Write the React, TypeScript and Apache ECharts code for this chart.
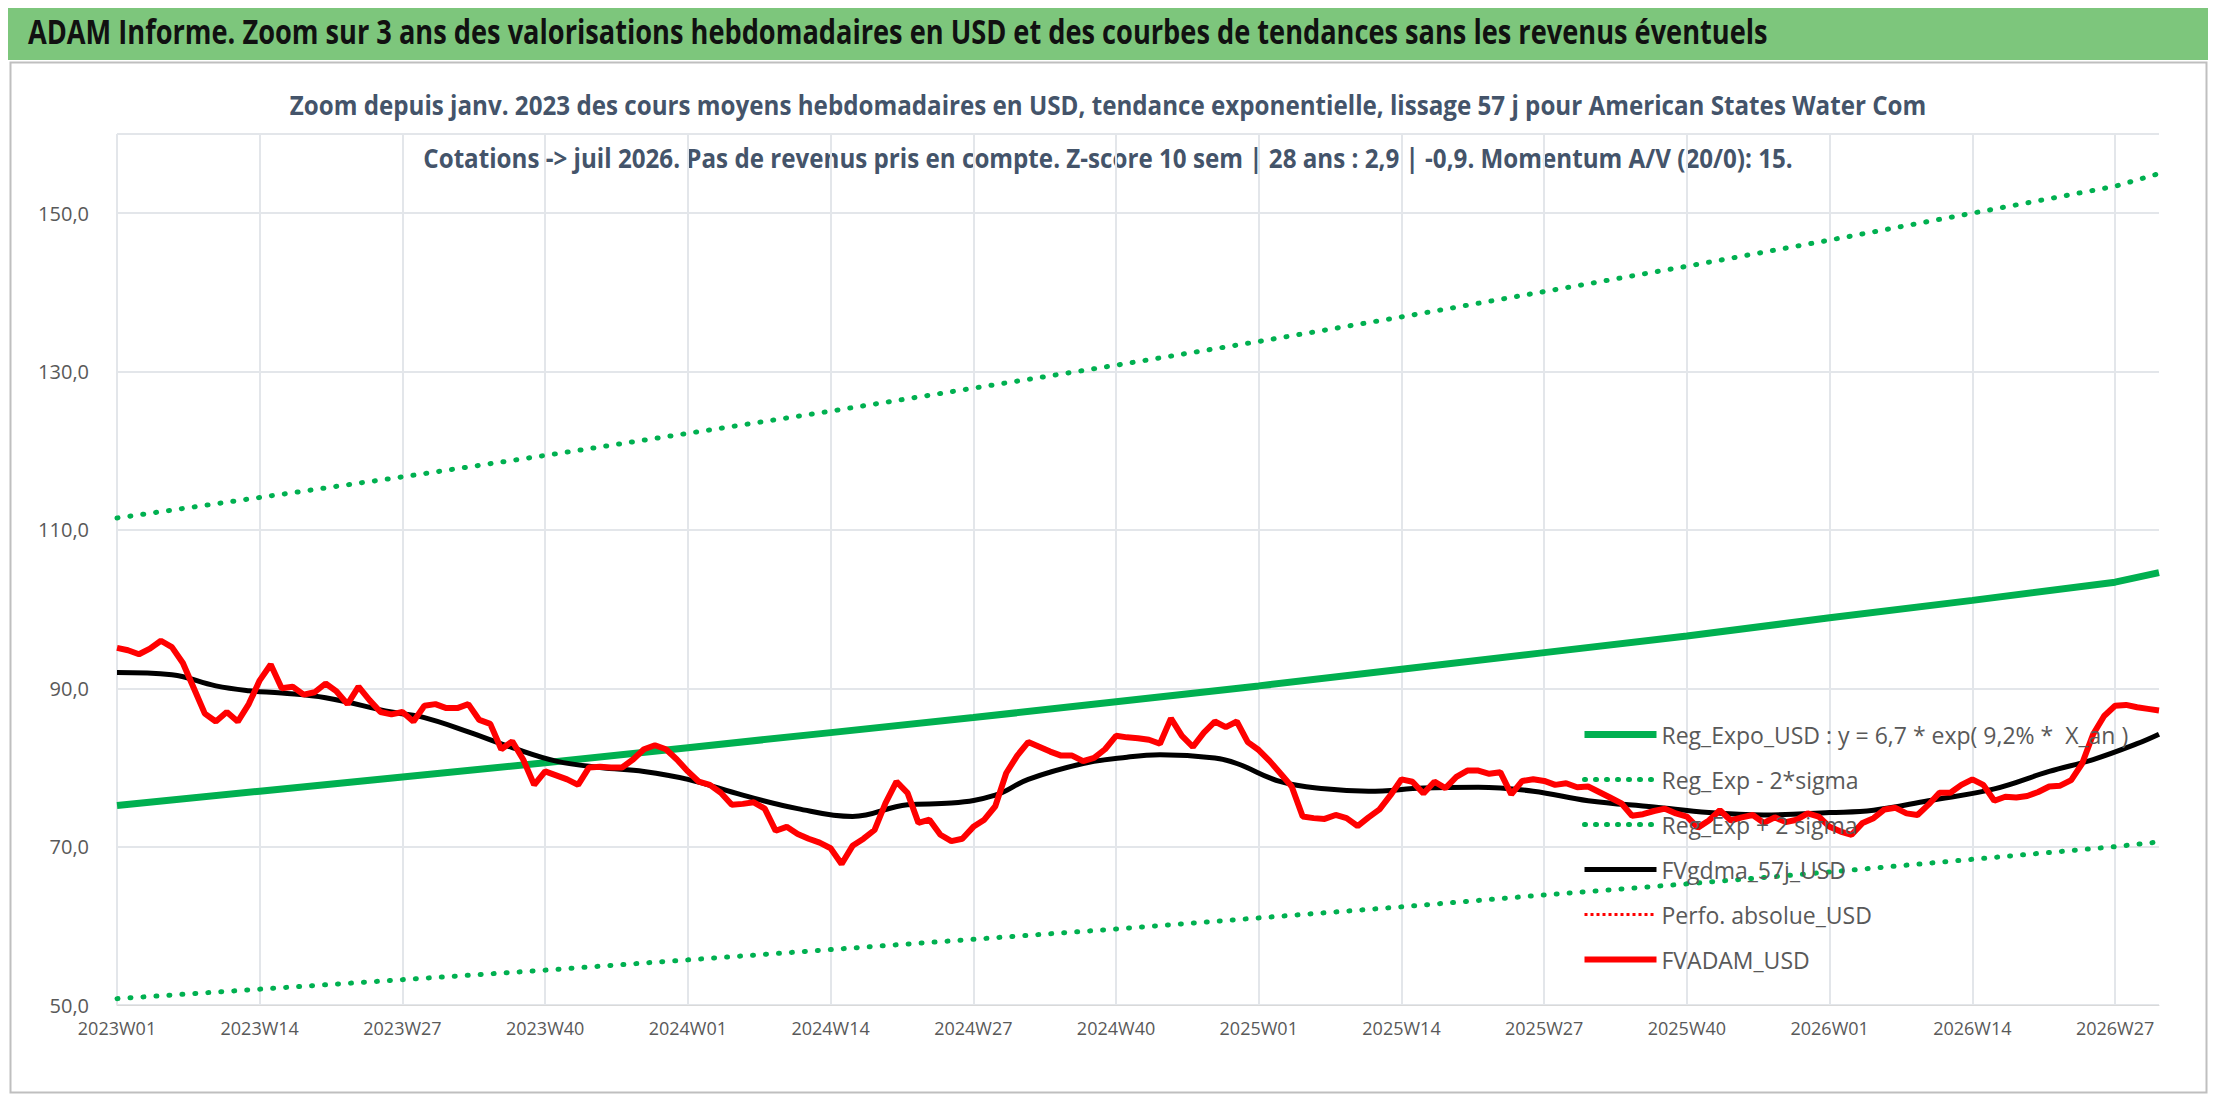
import React, { useEffect, useRef } from 'react'
import * as echarts from 'echarts'

// weekly categories 2023W01 .. 2026W31
const weeks: string[] = []
for (const yr of [2023, 2024, 2025, 2026]) {
  const n = yr === 2026 ? 31 : 52
  for (let w = 1; w <= n; w++) weeks.push(`${yr}W${String(w).padStart(2, '0')}`)
}

// FVADAM_USD weekly values
const fvadam = [
  95.1, 94.8, 94.3, 95.0, 96.0, 95.2, 93.2, 90.0, 86.8, 85.8, 87.0, 85.8, 88.0, 91.0, 93.0, 90.0,
  90.2, 89.2, 89.5, 90.6, 89.6, 88.0, 90.2, 88.5, 87.0, 86.7, 87.0, 85.8, 87.8, 88.0, 87.5, 87.5,
  88.0, 86.0, 85.5, 82.3, 83.3, 81.0, 77.8, 79.5, 79.0, 78.5, 77.8, 80.0, 80.1, 80.0, 80.0, 81.0,
  82.3, 82.8, 82.3, 81.0, 79.5, 78.2, 77.8, 76.8, 75.3, 75.4, 75.6, 74.8, 72.0, 72.5, 71.6, 71.0,
  70.5, 69.8, 67.8, 70.1, 71.0, 72.1, 75.5, 78.2, 76.8, 73.0, 73.4, 71.5, 70.7, 71.0, 72.5, 73.4,
  75.1, 79.3, 81.5, 83.2, 82.6, 82.0, 81.5, 81.5, 80.8, 81.2, 82.3, 84.0, 83.8, 83.7, 83.5, 83.0,
  86.2, 84.0, 82.6, 84.4, 85.8, 85.1, 85.8, 83.2, 82.2, 80.8, 79.2, 77.6, 73.8, 73.6, 73.5, 74.0,
  73.6, 72.6, 73.7, 74.7, 76.5, 78.5, 78.2, 76.7, 78.2, 77.4, 78.8, 79.6, 79.6, 79.2, 79.4, 76.6,
  78.3, 78.5, 78.3, 77.8, 78.0, 77.5, 77.6, 76.9, 76.2, 75.5, 73.9, 74.1, 74.5, 74.8, 74.2, 73.8,
  72.4, 73.3, 74.6, 73.3, 73.7, 74.0, 73.0, 73.7, 73.1, 73.4, 74.2, 73.8, 72.5, 71.9, 71.5, 73.0,
  73.6, 74.7, 74.9, 74.2, 74.0, 75.3, 76.8, 76.8, 77.8, 78.5, 77.8, 75.8, 76.3, 76.2, 76.4, 76.9,
  77.6, 77.7, 78.4, 80.5, 84.2, 86.5, 87.8, 87.9, 87.6, 87.4, 87.2,
]

// FVgdma_57j_USD, [week index, value]
const fvgdma: [number, number][] = [
  [0, 92.0], [5, 91.7], [9, 90.3], [12, 89.7], [15, 89.4], [19, 88.8], [25, 87.0], [28, 86.3],
  [32, 84.5], [36, 82.5], [40, 80.8], [44, 80.0], [48, 79.5], [52, 78.5], [57, 76.5], [62, 74.8],
  [67, 73.8], [72, 75.3], [76, 75.5], [80, 76.5], [83, 78.5], [88, 80.5], [92, 81.3], [95, 81.6],
  [100, 81.2], [102, 80.5], [106, 78.2], [110, 77.3], [114, 77.0], [119, 77.4], [124, 77.5],
  [129, 77.0], [134, 75.8], [140, 75.0], [145, 74.3], [150, 74.0], [156, 74.3], [160, 74.6],
  [165, 75.8], [171, 77.3], [176, 79.5], [180, 81.0], [184, 83.0], [186, 84.2],
]

const trendIdx = [0, 13, 26, 39, 52, 65, 78, 91, 104, 117, 130, 143, 156, 169, 182, 186]
const regExpo = [75.2, 77.0, 78.8, 80.6, 82.5, 84.4, 86.3, 88.3, 90.3, 92.4, 94.5, 96.6, 98.9, 101.1, 103.4, 104.6]
const regUpper = [111.5, 114.1, 116.7, 119.4, 122.2, 125.0, 127.9, 130.8, 133.8, 136.9, 140.1, 143.3, 146.6, 150.0, 153.4, 155.0]
const regLower = [50.8, 52.0, 53.2, 54.4, 55.7, 57.0, 58.3, 59.6, 61.0, 62.4, 63.9, 65.3, 66.8, 68.4, 70.0, 70.6]

const pairs = (vals: number[]) => vals.map((v, i) => [trendIdx[i], v])

const FONT = '"Open Sans", sans-serif'
const dotted = { type: [1, 12] as number[], cap: 'round' as const, width: 5 }
const N_EXPO = 'Reg_Expo_USD : y = 6,7 * exp( 9,2% *  X_an )'

const App: React.FC = () => {
  const ref = useRef<HTMLDivElement>(null)

  useEffect(() => {
    if (!ref.current) return
    const chart = echarts.init(ref.current, undefined, { renderer: 'svg' })
    chart.setOption({
      animation: false,
      backgroundColor: '#fff',
      textStyle: { fontFamily: FONT },
      graphic: [
        { type: 'rect', left: 0, top: 0, shape: { width: 2200, height: 52 }, style: { fill: '#7dc67c' } },
        { type: 'rect', left: 0, top: 52, shape: { width: 2196, height: 1030 }, style: { fill: 'none', stroke: '#bfbfbf', lineWidth: 2 } },
        {
          type: 'text', x: 20, y: 6, scaleX: 0.8,
          style: { text: 'ADAM Informe. Zoom sur 3 ans des valorisations hebdomadaires en USD et des courbes de tendances sans les revenus éventuels', fontSize: 34, fontWeight: 'bold', fill: '#111', fontFamily: FONT },
        },
        {
          type: 'text', x: 1100, y: 84, scaleX: 0.93,
          style: { text: 'Zoom depuis janv. 2023 des cours moyens hebdomadaires en USD, tendance exponentielle, lissage 57 j pour American States Water Com', textAlign: 'center', fontSize: 26, fontWeight: 'bold', fill: '#44546a', fontFamily: FONT },
        },
        {
          type: 'text', x: 1100, y: 137, scaleX: 0.93,
          style: { text: 'Cotations -> juil 2026. Pas de revenus pris en compte. Z-score 10 sem | 28 ans : 2,9 | -0,9. Momentum A/V (20/0): 15.', textAlign: 'center', fontSize: 26, fontWeight: 'bold', fill: '#44546a', fontFamily: FONT },
        },
      ],
      legend: {
        orient: 'vertical', left: 1568, top: 710, itemGap: 22, itemWidth: 72, itemHeight: 14,
        textStyle: { fontSize: 23, color: '#595959', fontFamily: FONT },
        itemStyle: { opacity: 0 },
        data: [
          { name: N_EXPO, lineStyle: { width: 7 } },
          { name: 'Reg_Exp - 2*sigma', lineStyle: { width: 5, type: [1, 10], cap: 'round' } },
          { name: 'Reg_Exp + 2 sigma', lineStyle: { width: 5, type: [1, 10], cap: 'round' } },
          { name: 'FVgdma_57j_USD', lineStyle: { width: 5 } },
          { name: 'Perfo. absolue_USD', lineStyle: { width: 3, type: [3, 3] } },
          { name: 'FVADAM_USD', lineStyle: { width: 6 } },
        ],
      },
      grid: { left: 109, right: 49, top: 126, bottom: 89, containLabel: false },
      xAxis: {
        type: 'category', data: weeks, boundaryGap: false,
        axisLine: { show: true, lineStyle: { color: '#d9d9d9' } },
        axisTick: { show: false },
        axisLabel: { interval: 12, color: '#595959', fontSize: 18, margin: 14, fontFamily: FONT },
        splitLine: { show: true, interval: 12, lineStyle: { color: '#e3e6ea', width: 2 } },
      },
      yAxis: {
        type: 'value', min: 50, max: 160, interval: 20,
        axisLine: { show: false }, axisTick: { show: false },
        axisLabel: {
          color: '#595959', fontSize: 20, margin: 28, fontFamily: FONT,
          formatter: (v: number) => (v > 150 ? '' : v.toFixed(1).replace('.', ',')),
        },
        splitLine: { lineStyle: { color: '#e3e6ea', width: 2 } },
      },
      series: [
        { name: N_EXPO, type: 'line', data: pairs(regExpo), showSymbol: false, lineStyle: { color: '#00b050', width: 7 }, itemStyle: { color: '#00b050' } },
        { name: 'Reg_Exp - 2*sigma', type: 'line', data: pairs(regLower), showSymbol: false, lineStyle: { ...dotted, color: '#00b050' }, itemStyle: { color: '#00b050' } },
        { name: 'Reg_Exp + 2 sigma', type: 'line', data: pairs(regUpper), showSymbol: false, lineStyle: { ...dotted, color: '#00b050' }, itemStyle: { color: '#00b050' } },
        { name: 'FVgdma_57j_USD', type: 'line', data: fvgdma, smooth: 0.4, showSymbol: false, lineStyle: { color: '#000', width: 5 }, itemStyle: { color: '#000' } },
        { name: 'Perfo. absolue_USD', type: 'line', data: [], showSymbol: false, lineStyle: { width: 3, type: [3, 3], color: '#ff0000' }, itemStyle: { color: '#ff0000' } },
        { name: 'FVADAM_USD', type: 'line', data: fvadam, showSymbol: false, lineStyle: { color: '#ff0000', width: 6 }, itemStyle: { color: '#ff0000' } },
      ],
    })
    return () => chart.dispose()
  }, [])

  return <div ref={ref} style={{ width: 2200, height: 1086 }} />
}

export default App
